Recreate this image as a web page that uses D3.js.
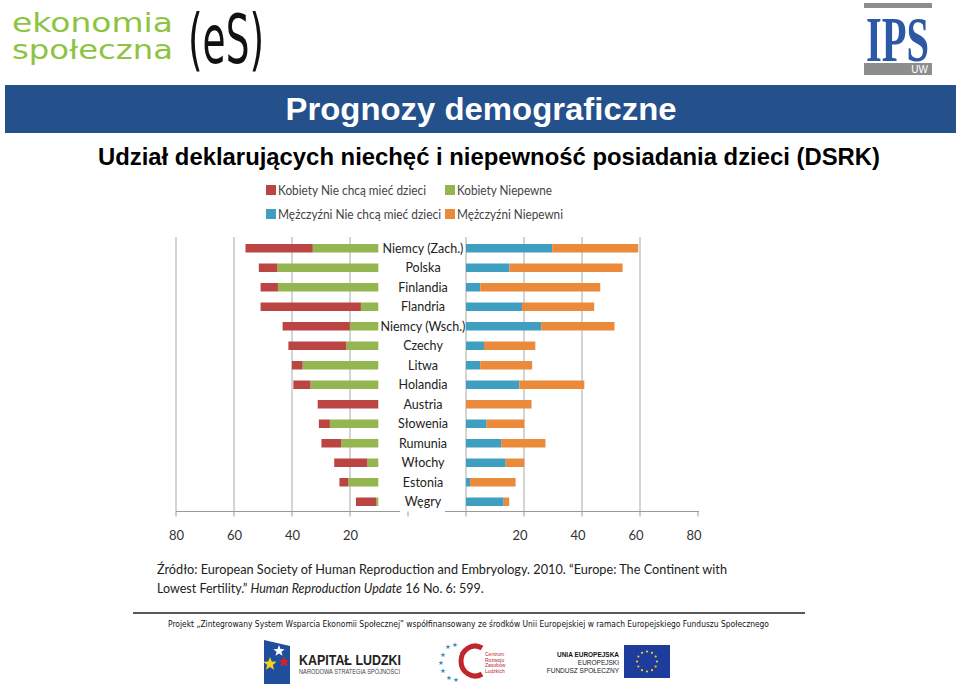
<!DOCTYPE html>
<html><head><meta charset="utf-8">
<script src="https://cdn.jsdelivr.net/npm/d3@7"></script>
<style>
html,body{margin:0;padding:0;background:#fff;}
svg{display:block;}
</style></head>
<body>
<svg id="c" width="960" height="688"></svg>
<script>
// ---- data ----
const countries = ["Niemcy (Zach.)","Polska","Finlandia","Flandria","Niemcy (Wsch.)","Czechy","Litwa","Holandia","Austria","Słowenia","Rumunia","Włochy","Estonia","Węgry"];
const womenNo     = [23.2, 6.4, 6.0, 34.6, 23.2, 19.9, 3.7, 5.9, 20.9, 3.8, 6.8, 11.4, 3.0, 7.0];
const womenUnsure = [22.6, 34.8, 34.6, 6.0, 9.8, 11.1, 26.1, 23.4, 0, 16.7, 12.8, 3.8, 10.4, 0.7];
const menNo       = [29.7, 15.0, 4.9, 19.3, 25.9, 6.2, 4.9, 18.4, 0, 7.1, 12.1, 13.7, 1.4, 13.0];
const menUnsure   = [29.7, 39.0, 41.4, 24.9, 25.3, 17.7, 17.9, 22.4, 22.6, 13.0, 15.3, 6.4, 15.7, 1.9];
const leftTicks  = [20, 40, 60, 80];
const rightTicks = [20, 40, 60, 80];
const seriesNames = ["Kobiety Nie chcą mieć dzieci","Kobiety Niepewne","Mężczyźni Nie chcą mieć dzieci","Mężczyźni Niepewni"];
const seriesColors = ["#bb4542","#94b650","#3f9fc0","#ec8a3c"];

const svg = d3.select("#c");
const FONT = "Lato, 'Open Sans', sans-serif";

const starPts = (cx,cy,r)=>{
  const pts=[];for(let k=0;k<10;k++){const a=-Math.PI/2+k*Math.PI/5;const rr=k%2?r*0.42:r;pts.push([cx+rr*Math.cos(a),cy+rr*Math.sin(a)]);}
  return pts.map(p=>p.join(",")).join(" ");
};

// ---- header logos ----
const eg = svg.append("g");
eg.append("text").attr("x",12).attr("y",32).attr("font-family","'DejaVu Sans', sans-serif")
  .attr("font-size",27).attr("fill","#8cc43f").attr("textLength",161).attr("lengthAdjust","spacingAndGlyphs")
  .text("ekonomia");
eg.append("text").attr("x",12).attr("y",59).attr("font-family","'DejaVu Sans', sans-serif")
  .attr("font-size",27).attr("fill","#8cc43f").attr("textLength",161).attr("lengthAdjust","spacingAndGlyphs")
  .text("społeczna");
eg.append("text").attr("x",188).attr("y",63).attr("font-family","'DejaVu Sans', sans-serif")
  .attr("font-size",68).attr("fill","#111").attr("textLength",76).attr("lengthAdjust","spacingAndGlyphs")
  .text("(eS)");

const ips = svg.append("g");
ips.append("rect").attr("x",864).attr("y",3).attr("width",68).attr("height",5).attr("fill","#8d8d8d");
ips.append("text").attr("x",866).attr("y",61).attr("font-family","'Liberation Serif', serif").attr("font-weight","bold")
  .attr("font-size",64).attr("fill","#2d58a6").attr("textLength",63).attr("lengthAdjust","spacingAndGlyphs").text("IPS");
ips.append("rect").attr("x",864).attr("y",63).attr("width",68).attr("height",12).attr("fill","#8d8d8d");
ips.append("text").attr("x",928).attr("y",73).attr("text-anchor","end").attr("font-family","'Liberation Sans', sans-serif")
  .attr("font-size",10).attr("fill","#fff").text("UW");

// ---- title ----
svg.append("rect").attr("x",5).attr("y",85).attr("width",951).attr("height",48).attr("fill","#24508b");
svg.append("text").attr("x",481).attr("y",120).attr("text-anchor","middle")
  .attr("font-family","'Liberation Sans', Arial, sans-serif").attr("font-weight","bold").attr("font-size",32)
  .attr("fill","#fff").attr("textLength",391).attr("lengthAdjust","spacingAndGlyphs").text("Prognozy demograficzne");
svg.append("text").attr("x",489).attr("y",165).attr("text-anchor","middle")
  .attr("font-family","'Liberation Sans', Arial, sans-serif").attr("font-weight","bold").attr("font-size",23)
  .attr("fill","#000").attr("textLength",782).attr("lengthAdjust","spacingAndGlyphs")
  .text("Udział deklarujących niechęć i niepewność posiadania dzieci (DSRK)");

// ---- legend ----
const legPos = [[266,190],[445,190],[266,214],[445,214]];
const legW = [148, 95, 163, 106];
seriesNames.forEach((n,i)=>{
  const g = svg.append("g").attr("transform",`translate(${legPos[i][0]},${legPos[i][1]})`);
  g.append("rect").attr("x",0).attr("y",-5).attr("width",10).attr("height",10).attr("fill",seriesColors[i]);
  g.append("text").attr("x",12).attr("y",4.5).attr("font-family",FONT).attr("font-size",12.5).attr("fill","#444")
    .attr("textLength",legW[i]).attr("lengthAdjust","spacingAndGlyphs").text(n);
});

// ---- scales ----
const y = d3.scaleBand().domain(countries).range([238.5, 511.5]);
const barH = 8.5;
const xL = d3.scaleLinear().domain([0,80]).range([378.3, 378.3-232]);
const gL = d3.scaleLinear().domain([0,80]).range([408, 176]);
const xR = d3.scaleLinear().domain([0,80]).range([466, 698]);

// gridlines
const gridTop = 237, axisY = 511.5;
svg.append("g").selectAll("line").data(leftTicks).join("line")
  .attr("x1",d=>gL(d)).attr("x2",d=>gL(d)).attr("y1",gridTop).attr("y2",axisY)
  .attr("stroke","#a9a9a9").attr("stroke-width",1);
svg.append("g").selectAll("line").data([0,20,40,60]).join("line")
  .attr("x1",d=>xR(d)).attr("x2",d=>xR(d)).attr("y1",gridTop).attr("y2",axisY)
  .attr("stroke","#a9a9a9").attr("stroke-width",1);

// axis line + ticks
svg.append("line").attr("x1",gL(80)).attr("x2",400).attr("y1",axisY).attr("y2",axisY).attr("stroke","#999");
svg.append("line").attr("x1",445).attr("x2",xR(80)+1).attr("y1",axisY).attr("y2",axisY).attr("stroke","#999");
const tickXs = [0,20,40,60,80].map(v=>gL(v)).concat([0,20,40,60,80].map(v=>xR(v)));
svg.append("g").selectAll("line").data(tickXs).join("line")
  .attr("x1",d=>d).attr("x2",d=>d).attr("y1",axisY).attr("y2",axisY+5).attr("stroke","#999");

// bottom tick labels via axes
const axL = svg.append("g").attr("transform",`translate(0,${axisY})`)
  .call(d3.axisBottom(gL).tickValues(leftTicks).tickSize(0).tickPadding(19));
const axR = svg.append("g").attr("transform",`translate(0,${axisY})`)
  .call(d3.axisBottom(xR).tickValues(rightTicks).tickSize(0).tickPadding(19));
[axL,axR].forEach(a=>{
  a.select(".domain").remove();
  a.selectAll("text").attr("font-family",FONT).attr("font-size",13).attr("fill","#333");
});
axR.selectAll(".tick").attr("transform",d=>`translate(${xR(d)-4},0)`);

// ---- bars ----
const rows = countries.map((c,i)=>({c, wn:womenNo[i], wu:womenUnsure[i], mn:menNo[i], mu:menUnsure[i]}));
const by = d => y(d.c) + y.bandwidth()/2 - barH/2;
const bars = svg.append("g");
bars.selectAll(".wu").data(rows).join("rect").attr("class","wu")
  .attr("x",d=>xL(d.wu)).attr("width",d=>xL(0)-xL(d.wu)).attr("y",by).attr("height",barH).attr("fill",seriesColors[1]);
bars.selectAll(".wn").data(rows).join("rect").attr("class","wn")
  .attr("x",d=>xL(d.wu+d.wn)).attr("width",d=>xL(d.wu)-xL(d.wu+d.wn)).attr("y",by).attr("height",barH).attr("fill",seriesColors[0]);
bars.selectAll(".mn").data(rows).join("rect").attr("class","mn")
  .attr("x",xR(0)).attr("width",d=>xR(d.mn)-xR(0)).attr("y",by).attr("height",barH).attr("fill",seriesColors[2]);
bars.selectAll(".mu").data(rows).join("rect").attr("class","mu")
  .attr("x",d=>xR(d.mn)).attr("width",d=>xR(d.mn+d.mu)-xR(d.mn)).attr("y",by).attr("height",barH).attr("fill",seriesColors[3]);

// country labels
svg.append("g").selectAll("text").data(countries).join("text")
  .attr("x",423).attr("y",d=>y(d)+y.bandwidth()/2+4.5).attr("text-anchor","middle")
  .attr("font-family",FONT).attr("font-size",12.5).attr("fill","#222").text(d=>d);

// ---- source ----
const src = svg.append("g").attr("font-family",FONT).attr("font-size",12.5).attr("fill","#222");
src.append("text").attr("x",157).attr("y",574).attr("textLength",570).attr("lengthAdjust","spacingAndGlyphs")
  .text("Źródło: European Society of Human Reproduction and Embryology. 2010. “Europe: The Continent with");
const s2 = src.append("text").attr("x",157).attr("y",593);
s2.append("tspan").text("Lowest Fertility.” ");
s2.append("tspan").attr("font-style","italic").text("Human Reproduction Update");
s2.append("tspan").text(" 16 No. 6: 599.");

// ---- footer ----
svg.append("line").attr("x1",133).attr("x2",805).attr("y1",613).attr("y2",613).attr("stroke","#222").attr("stroke-width",1.6);
svg.append("text").attr("x",168).attr("y",627).attr("font-family","'DejaVu Sans', sans-serif").attr("font-size",9)
  .attr("fill","#111").attr("textLength",601).attr("lengthAdjust","spacingAndGlyphs")
  .text("Projekt „Zintegrowany System Wsparcia Ekonomii Społecznej” współfinansowany ze środków Unii Europejskiej w ramach Europejskiego Funduszu Społecznego");

// Kapitał Ludzki logo
const kl = svg.append("g");
kl.append("path").attr("d","M264,640 L290,646 L290,684 L264,684 Z").attr("fill","#1f4e9c");
kl.append("polygon").attr("points",starPts(279,651,6)).attr("fill","#ffffff");
kl.append("polygon").attr("points",starPts(270,664,7)).attr("fill","#f4d21a");
kl.append("polygon").attr("points",starPts(284,662,6)).attr("fill","#d2232a");
kl.append("text").attr("x",299).attr("y",665).attr("font-family","'Liberation Sans', sans-serif").attr("font-weight","bold")
  .attr("font-size",14).attr("fill","#222").attr("textLength",102).attr("lengthAdjust","spacingAndGlyphs").text("KAPITAŁ LUDZKI");
kl.append("text").attr("x",299).attr("y",674).attr("font-family","'Liberation Sans', sans-serif")
  .attr("font-size",6.5).attr("fill","#444").attr("textLength",101).attr("lengthAdjust","spacingAndGlyphs").text("NARODOWA STRATEGIA SPÓJNOŚCI");

// CRZL logo
const cr = svg.append("g");
[[448,647],[455,645],[443,655],[441,663],[443,671],[449,678],[456,680],[462,653],[463,669]].forEach(p=>{
  cr.append("polygon").attr("points",starPts(p[0],p[1],2.6)).attr("fill","#3b8fc4");
});
cr.append("path").attr("d","M482,648 A14,15 0 1 0 482,674").attr("fill","none").attr("stroke","#c0262d").attr("stroke-width",5);
["Centrum","Rozwoju","Zasobów","Ludzkich"].forEach((t,i)=>{
  cr.append("text").attr("x",485).attr("y",656+i*5.5).attr("font-family","'Liberation Sans', sans-serif")
    .attr("font-size",5).attr("fill","#c0262d").text(t);
});

// EU logo
const eu = svg.append("g").attr("font-family","'Liberation Sans', sans-serif");
eu.append("text").attr("x",557).attr("y",657).attr("font-weight","bold").attr("font-size",7.5).attr("fill","#111")
  .attr("textLength",62).attr("lengthAdjust","spacingAndGlyphs").text("UNIA EUROPEJSKA");
eu.append("text").attr("x",619).attr("y",665).attr("text-anchor","end").attr("font-size",6.5).attr("fill","#222").text("EUROPEJSKI");
eu.append("text").attr("x",619).attr("y",673).attr("text-anchor","end").attr("font-size",6.5).attr("fill","#222").text("FUNDUSZ SPOŁECZNY");
eu.append("rect").attr("x",624).attr("y",645).attr("width",46).attr("height",33).attr("fill","#1d3c9b");
d3.range(12).forEach(k=>{
  const a = k*Math.PI/6;
  eu.append("circle").attr("cx",647+10*Math.cos(a)).attr("cy",661.5+10*Math.sin(a)).attr("r",1.1).attr("fill","#f4d21a");
});
</script>
</body></html>
